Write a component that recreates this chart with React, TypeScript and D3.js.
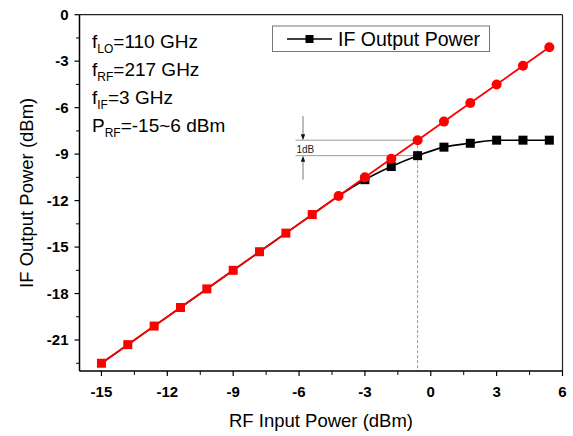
import React from 'react';
import * as d3 from 'd3';

// RF input power sweep (dBm)
const inputPower = [-15, -13.8, -12.6, -11.4, -10.2, -9, -7.8, -6.6, -5.4, -4.2, -3, -1.8, -0.6, 0.6, 1.8, 3, 4.2, 5.4];
// ideal linear response (red)
const idealOutput = [-22.5, -21.3, -20.1, -18.9, -17.7, -16.5, -15.3, -14.1, -12.9, -11.7, -10.5, -9.3, -8.1, -6.9, -5.7, -4.5, -3.3, -2.1];
// measured IF output power (black)
const measuredOutput = [-22.5, -21.3, -20.1, -18.9, -17.7, -16.5, -15.3, -14.1, -12.9, -11.7, -10.65, -9.8, -9.1, -8.55, -8.3, -8.1, -8.1, -8.1];

const xTicks = [-15, -12, -9, -6, -3, 0, 3, 6];
const xMinor = [-13.5, -10.5, -7.5, -4.5, -1.5, 1.5, 4.5];
const yTicks = [0, -3, -6, -9, -12, -15, -18, -21];
const yMinor = [-1.5, -4.5, -7.5, -10.5, -13.5, -16.5, -19.5, -22.5];

const notes = [
  { main: 'f', sub: 'LO', rest: '=110 GHz' },
  { main: 'f', sub: 'RF', rest: '=217 GHz' },
  { main: 'f', sub: 'IF', rest: '=3 GHz' },
  { main: 'P', sub: 'RF', rest: '=-15~6 dBm' },
];

const compressionIndex = 12; // -0.6 dBm, 1 dB compression point

const W = 573;
const H = 436;
const margin = { left: 79.5, right: 10.5, top: 14.7, bottom: 65 };
const font = '"Liberation Sans", Arial, sans-serif';

const App = () => {
  const x = d3.scaleLinear().domain([-16, 6]).range([margin.left, W - margin.right]);
  const y = d3.scaleLinear().domain([-23, 0]).range([H - margin.bottom, margin.top]);

  const left = x.range()[0];
  const right = x.range()[1];
  const top = y.range()[1];
  const bottom = y.range()[0];

  const idealLine = d3.line<number>()
    .x((d, i) => x(inputPower[i]))
    .y(d => y(d));
  const measuredLine = d3.line<number>()
    .x((d, i) => x(inputPower[i]))
    .y(d => y(d))
    .curve(d3.curveMonotoneX);

  const cx = x(inputPower[compressionIndex]);
  const yHi = y(idealOutput[compressionIndex]);
  const yLo = y(measuredOutput[compressionIndex]);
  const arrowX = 303;
  const annLeft = 295.5;

  return (
    <svg width={W} height={H} style={{ position: 'absolute', left: 0, top: 0, background: '#fff' }} fontFamily={font}>
      {/* frame */}
      <line x1={left} x2={right} y1={top} y2={top} stroke="#222" strokeWidth={1.2} />
      <line x1={right} x2={right} y1={top} y2={bottom} stroke="#222" strokeWidth={1.2} />

      {/* 1 dB annotation */}
      <line x1={annLeft} x2={cx} y1={yHi} y2={yHi} stroke="#999" strokeWidth={1} />
      <line x1={annLeft} x2={cx} y1={yLo} y2={yLo} stroke="#999" strokeWidth={1} />
      <line x1={cx} x2={cx} y1={yHi} y2={bottom} stroke="#999" strokeWidth={1} strokeDasharray="3,2" />
      <line x1={arrowX} x2={arrowX} y1={yHi - 24} y2={yHi - 5} stroke="#555" strokeWidth={0.8} />
      <path d={`M${arrowX},${yHi} l-2.2,-6 l4.4,0 z`} fill="#111" />
      <line x1={arrowX} x2={arrowX} y1={yLo + 5} y2={yLo + 24} stroke="#555" strokeWidth={0.8} />
      <path d={`M${arrowX},${yLo} l-2.2,6 l4.4,0 z`} fill="#111" />
      <text x={296.5} y={152.5} fontSize={10} fill="#222">1dB</text>

      {/* measured */}
      <path d={measuredLine(measuredOutput) || ''} fill="none" stroke="#000" strokeWidth={1.6} />
      {measuredOutput.map((v, i) => Math.abs(v - idealOutput[i]) > 0.05 ? (
        <rect key={'m' + i} x={x(inputPower[i]) - 4.5} y={y(v) - 4.5} width={9} height={9} fill="#000" />
      ) : null)}

      {/* ideal */}
      <path d={idealLine(idealOutput) || ''} fill="none" stroke="#f00" strokeWidth={1.8} />
      {idealOutput.map((v, i) => inputPower[i] < -5 ? (
        <rect key={'i' + i} x={x(inputPower[i]) - 4.5} y={y(v) - 4.5} width={9} height={9} fill="#f00" />
      ) : (
        <circle key={'i' + i} cx={x(inputPower[i])} cy={y(v)} r={5} fill="#f00" />
      ))}

      {/* axes */}
      <line x1={left} x2={right} y1={bottom} y2={bottom} stroke="#000" strokeWidth={1.5} />
      <line x1={left} x2={left} y1={top} y2={bottom} stroke="#000" strokeWidth={1.5} />
      {xTicks.map(t => (
        <g key={'xt' + t}>
          <line x1={x(t)} x2={x(t)} y1={bottom} y2={bottom + 5} stroke="#000" strokeWidth={1.2} />
          <text x={x(t)} y={bottom + 26} textAnchor="middle" fontSize={15} fontWeight="bold">{t}</text>
        </g>
      ))}
      {xMinor.map(t => (
        <line key={'xm' + t} x1={x(t)} x2={x(t)} y1={bottom} y2={bottom + 4} stroke="#000" strokeWidth={1} />
      ))}
      {yTicks.map(t => (
        <g key={'yt' + t}>
          <line x1={left - 5} x2={left} y1={y(t)} y2={y(t)} stroke="#000" strokeWidth={1.2} />
          <text x={left - 11} y={y(t) + 5} textAnchor="end" fontSize={15} fontWeight="bold">{t}</text>
        </g>
      ))}
      {yMinor.map(t => (
        <line key={'ym' + t} x1={left - 3.5} x2={left} y1={y(t)} y2={y(t)} stroke="#000" strokeWidth={1} />
      ))}

      <text x={(left + right) / 2} y={H - 9} textAnchor="middle" fontSize={18.5}>RF Input Power (dBm)</text>
      <text transform={`translate(33,${(top + bottom) / 2}) rotate(-90)`} textAnchor="middle" fontSize={18.5}>IF Output Power (dBm)</text>

      {/* conditions */}
      {notes.map((n, i) => (
        <text key={'n' + i} x={92} y={48.3 + i * 27.8} fontSize={19}>
          {n.main}
          <tspan fontSize={12} dy={5}>{n.sub}</tspan>
          <tspan dy={-5}>{n.rest}</tspan>
        </text>
      ))}

      {/* legend */}
      <rect x={272.5} y={26} width={217} height={25.5} fill="#fff" stroke="#777" strokeWidth={1} />
      <line x1={287} x2={332} y1={39} y2={39} stroke="#000" strokeWidth={1.6} />
      <rect x={305.5} y={35} width={8} height={8} fill="#000" />
      <text x={338} y={46} fontSize={19.5}>IF Output Power</text>
    </svg>
  );
};

export default App;
